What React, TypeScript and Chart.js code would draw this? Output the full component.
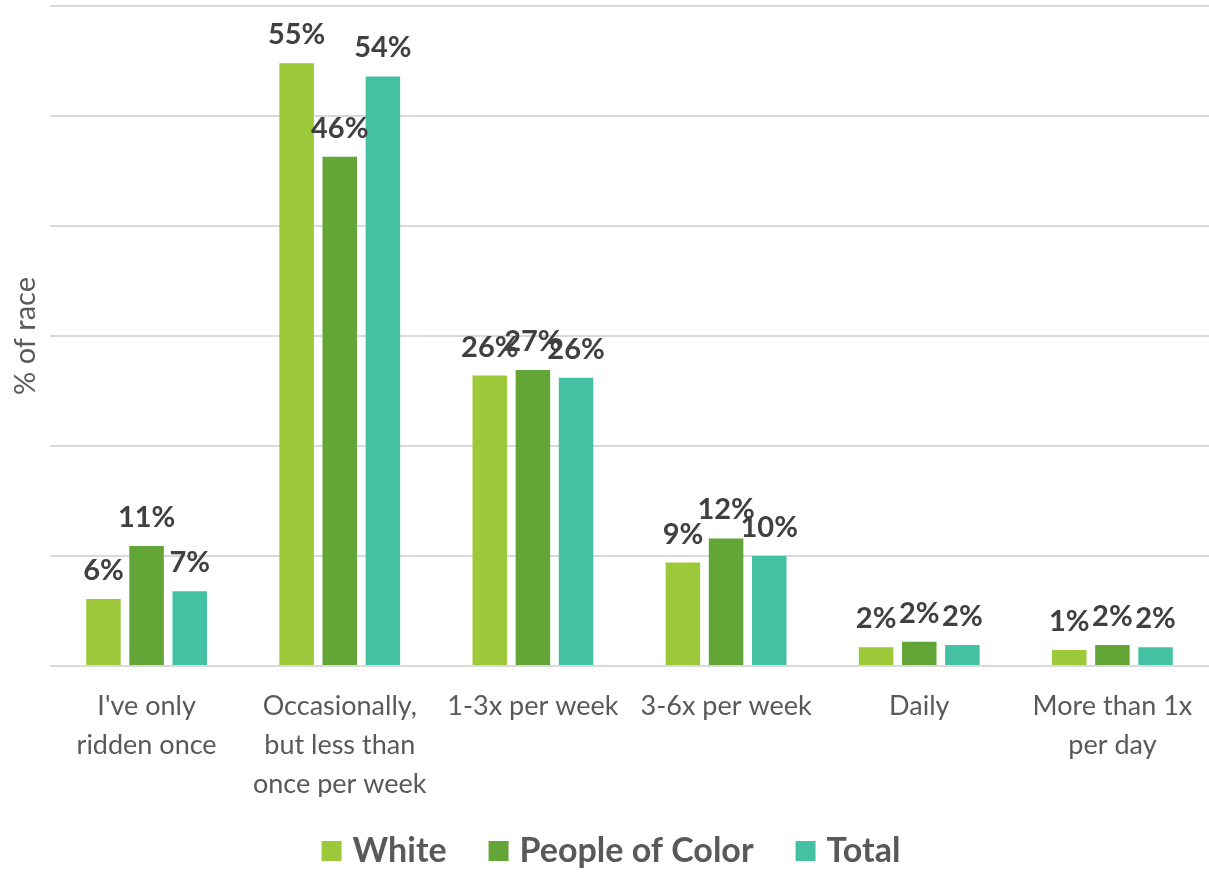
import React, { useEffect, useRef } from "react";
import { Chart, registerables } from "chart.js";

Chart.register(...registerables);

const categories: string[][] = [
  ["I've only", "ridden once"],
  ["Occasionally,", "but less than", "once per week"],
  ["1-3x per week"],
  ["3-6x per week"],
  ["Daily"],
  ["More than 1x", "per day"],
];
const seriesNames = ["White", "People of Color", "Total"];
const whiteValues = [6.1, 54.8, 26.4, 9.4, 1.7, 1.45];
const pocValues = [10.9, 46.3, 26.9, 11.6, 2.2, 1.9];
const totalValues = [6.8, 53.6, 26.2, 10.0, 1.9, 1.7];
const seriesColors = ["#9BC93A", "#63A537", "#44C1A3"];
const yMin = 0;
const yMax = 60;
const yStep = 10;
const yTitle = "% of race";

const FONT = "Lato, 'Open Sans', sans-serif";

const dataLabelPlugin = {
  id: "dataLabels",
  afterDatasetsDraw(chart: any) {
    const ctx = chart.ctx;
    ctx.save();
    ctx.font = `bold 29px ${FONT}`;
    ctx.fillStyle = "#404040";
    ctx.textAlign = "center";
    ctx.textBaseline = "alphabetic";
    chart.data.datasets.forEach((ds: any, i: number) => {
      const meta = chart.getDatasetMeta(i);
      meta.data.forEach((bar: any, j: number) => {
        const v = ds.data[j];
        ctx.fillText(`${Math.round(v)}%`, bar.x, bar.y - 19);
      });
    });
    ctx.restore();
  },
};

const legendPlugin = {
  id: "customLegend",
  afterDraw(chart: any) {
    const ctx = chart.ctx;
    ctx.save();
    ctx.font = `bold 34px ${FONT}`;
    ctx.textBaseline = "middle";
    ctx.textAlign = "left";
    const box = 20;
    const boxGap = 11;
    const itemGap = 42;
    const widths = chart.data.datasets.map((ds: any) => ctx.measureText(ds.label).width);
    const total =
      widths.reduce((a: number, b: number) => a + b, 0) +
      widths.length * (box + boxGap) +
      (widths.length - 1) * itemGap;
    let x = 611 - total / 2;
    const cy = 851;
    chart.data.datasets.forEach((ds: any, i: number) => {
      ctx.fillStyle = ds.backgroundColor;
      ctx.fillRect(x, cy - box / 2, box, box);
      x += box + boxGap;
      ctx.fillStyle = "#595959";
      ctx.fillText(ds.label, x, cy);
      x += widths[i] + itemGap;
    });
    ctx.restore();
  },
};

export default function App() {
  const canvasRef = useRef<HTMLCanvasElement | null>(null);

  useEffect(() => {
    document.body.style.margin = "0";
    const canvas = canvasRef.current;
    if (!canvas) return;
    const chart = new Chart(canvas, {
      type: "bar",
      data: {
        labels: categories,
        datasets: [whiteValues, pocValues, totalValues].map((vals, i) => ({
          label: seriesNames[i],
          data: vals,
          backgroundColor: seriesColors[i],
          borderWidth: 0,
          categoryPercentage: 0.67,
          barPercentage: 0.8,
        })),
      },
      options: {
        animation: false,
        responsive: true,
        maintainAspectRatio: false,
        layout: { padding: { top: 6, right: 0, left: 0, bottom: 75 } },
        plugins: {
          tooltip: { enabled: false },
          legend: { display: false },
        },
        scales: {
          x: {
            grid: { display: false },
            border: { display: false },
            ticks: {
              color: "#595959",
              font: { family: FONT, size: 27, lineHeight: 1.44 },
              maxRotation: 0,
              autoSkip: false,
              padding: 13,
            },
            afterFit: (scale: any) => {
              scale.height = 131;
            },
          },
          y: {
            min: yMin,
            max: yMax,
            ticks: { stepSize: yStep, display: false },
            grid: { color: "#d9d9d9", lineWidth: 2, drawTicks: false },
            border: { display: false },
            title: {
              display: true,
              text: yTitle,
              color: "#595959",
              font: { family: FONT, size: 29 },
              padding: { top: 8, bottom: 0 },
            },
            afterFit: (scale: any) => {
              scale.width = 50;
            },
          },
        },
      },
      plugins: [dataLabelPlugin, legendPlugin],
    });
    return () => chart.destroy();
  }, []);

  return (
    <div style={{ width: 1209, height: 872, position: "relative" }}>
      <canvas ref={canvasRef} />
    </div>
  );
}
